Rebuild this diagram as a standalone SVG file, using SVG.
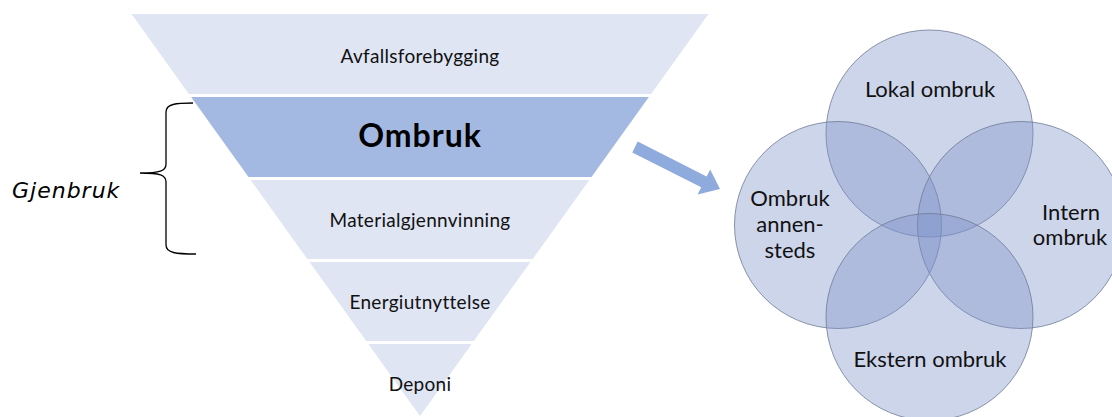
<svg xmlns="http://www.w3.org/2000/svg" width="1112" height="417" viewBox="0 0 1112 417">
  <style>
    .band { fill: #DFE5F3; }
    .band-hi { fill: #A4B9E1; }
    .lbl { font-family: Lato, "Open Sans", "Liberation Sans", sans-serif; font-size: 19px; letter-spacing: 0.3px; fill: #111; text-anchor: middle; }
    .big { font-family: Lato, "Open Sans", "Liberation Sans", sans-serif; font-size: 32px; letter-spacing: 1px; font-weight: bold; fill: #000; text-anchor: middle; }
    .ring { fill: #7C90C8; fill-opacity: 0.38; stroke: #6F7A96; stroke-width: 1; stroke-opacity: 0.8; }
    .ctext { font-family: Lato, "Open Sans", "Liberation Sans", sans-serif; font-size: 22px; fill: #111; text-anchor: middle; }
    .side { font-family: "DejaVu Sans", Verdana, sans-serif; font-size: 22px; letter-spacing: 1px; font-style: italic; fill: #000; }
  </style>

  <!-- waste hierarchy funnel -->
  <g id="level-avfallsforebygging">
    <polygon class="band" points="131.5,14 708.5,14 651.1,94 188.9,94"/>
    <text class="lbl" x="420" y="63">Avfallsforebygging</text>
  </g>
  <g id="level-ombruk">
    <polygon class="band-hi" points="191.1,97 648.9,97 591.5,177 248.5,177"/>
    <text class="big" x="420" y="147">Ombruk</text>
  </g>
  <g id="level-materialgjennvinning">
    <polygon class="band" points="250.6,180 589.4,180 532.7,259 307.3,259"/>
    <text class="lbl" x="420" y="227">Materialgjennvinning</text>
  </g>
  <g id="level-energiutnyttelse">
    <polygon class="band" points="309.5,262 530.5,262 473.8,341 366.2,341"/>
    <text class="lbl" x="420" y="309">Energiutnyttelse</text>
  </g>
  <g id="level-deponi">
    <polygon class="band" points="368.3,344 471.7,344 420,416"/>
    <text class="lbl" x="420" y="391">Deponi</text>
  </g>

  <!-- brace grouping the reuse levels -->
  <g id="gjenbruk">
    <path d="M193,103 C176,103 166,104 166,112 L166,164 C166,171 160,173 140,173 C160,173 166,175 166,182 L166,245 C166,253 176,254 196,254" fill="none" stroke="#000" stroke-width="1.3"/>
    <text class="side" x="12" y="198">Gjenbruk</text>
  </g>

  <!-- connector -->
  <g id="connectors">
    <polygon fill="#8FAADC" points="637.7,141.6 706.6,176.5 710.2,169.4 720,189 697.6,194.4 701.2,187.3 632.3,152.4"/>
  </g>

  <!-- forms of reuse -->
  <g id="lokal-ombruk">
    <circle class="ring" cx="929.5" cy="133.5" r="103.5"/>
  </g>
  <g id="ombruk-annensteds">
    <circle class="ring" cx="838" cy="225" r="103.5"/>
  </g>
  <g id="intern-ombruk">
    <circle class="ring" cx="1021" cy="225" r="103.5"/>
  </g>
  <g id="ekstern-ombruk">
    <circle class="ring" cx="929.5" cy="317" r="103.5"/>
  </g>
  <g id="circle-labels">
    <text class="ctext" x="930" y="97">Lokal ombruk</text>
    <text class="ctext" x="790" y="206">Ombruk</text>
    <text class="ctext" x="790" y="232">annen-</text>
    <text class="ctext" x="790" y="258">steds</text>
    <text class="ctext" x="1071" y="220">Intern</text>
    <text class="ctext" x="1070" y="245">ombruk</text>
    <text class="ctext" x="930" y="367">Ekstern ombruk</text>
  </g>
</svg>
